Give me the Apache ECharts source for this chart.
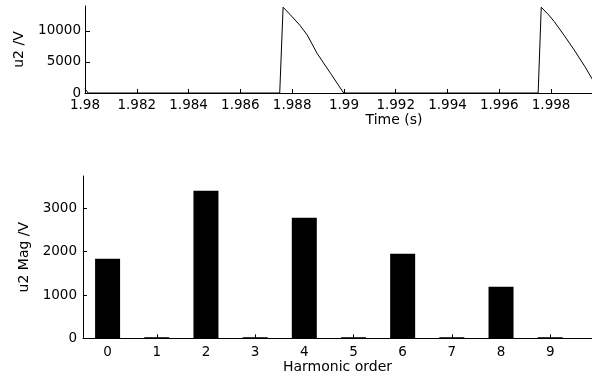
<!DOCTYPE html>
<html>
<head>
<meta charset="utf-8">
<script src="https://cdn.jsdelivr.net/npm/echarts@6/dist/echarts.min.js"></script>
<style>html,body{margin:0;padding:0;background:#fff}#c{width:592px;height:379px}</style>
</head>
<body>
<div id="c"></div>
<script>
// ---- top panel: waveform u2 (V) vs time (s)
const timeS = [1.98, 1.98012, 1.98752, 1.98765, 1.98793, 1.98830, 1.98858, 1.98896, 1.98948, 1.98999,
               1.99750, 1.99762, 1.99790, 1.99812, 1.99850, 1.99889, 1.99930, 1.99960];
const u2Volt = [700, 0, 0, 13800, 12580, 10900, 9350, 6400, 3180, 0,
                0, 13800, 12600, 11500, 9300, 6935, 4300, 2150];
const timeTicks = [1.98, 1.982, 1.984, 1.986, 1.988, 1.99, 1.992, 1.994, 1.996, 1.998];
const voltTicks = [0, 5000, 10000];

// ---- bottom panel: harmonic magnitudes
const harmonicOrder = [0, 1, 2, 3, 4, 5, 6, 7, 8, 9];
const harmonicMag = [1840, 25, 3410, 25, 2785, 25, 1955, 25, 1190, 25];
const magTicks = [0, 1000, 2000, 3000];

const FONT = 'DejaVu Sans';
const txt = {color: '#000', fontFamily: FONT, fontSize: 13.5};
const nameTxt = {color: '#000', fontFamily: FONT, fontSize: 14};
const axLine = {show: true, onZero: false, lineStyle: {color: '#000', width: 1}};

const chart = echarts.init(document.getElementById('c'), null, {renderer: 'canvas'});
chart.setOption({
  animation: false,
  backgroundColor: '#fff',
  grid: [
    {left: 85, right: 0, top: 6, bottom: 286, containLabel: false},
    {left: 83, right: 0, top: 176, bottom: 40.7, containLabel: false}
  ],
  xAxis: [
    {
      gridIndex: 0, type: 'value', min: 1.98, max: 1.99958,
      name: 'Time (s)', nameLocation: 'middle', nameGap: 13,
      nameTextStyle: Object.assign({}, nameTxt, {padding: [0, 0, 0, 111]}),
      axisLine: axLine,
      axisTick: {show: true, inside: true, length: 4, lineStyle: {color: '#000'}, customValues: timeTicks},
      axisLabel: Object.assign({}, txt, {margin: 5, customValues: timeTicks,
        formatter: v => String(+(+v).toFixed(3))}),
      splitLine: {show: false}
    },
    {
      gridIndex: 1, type: 'value', min: -0.5, max: 9.85,
      name: 'Harmonic order', nameLocation: 'middle', nameGap: 19,
      nameTextStyle: nameTxt,
      axisLine: axLine,
      axisTick: {show: true, inside: true, length: 4, lineStyle: {color: '#000'}, customValues: harmonicOrder},
      axisLabel: Object.assign({}, txt, {margin: 7, customValues: harmonicOrder,
        formatter: v => String(Math.round(v))}),
      splitLine: {show: false}
    }
  ],
  yAxis: [
    {
      gridIndex: 0, type: 'value', min: 0, max: 14000,
      name: 'u2 /V', nameLocation: 'middle', nameGap: 59, nameTextStyle: nameTxt,
      axisLine: axLine,
      axisTick: {show: true, inside: true, length: 5, lineStyle: {color: '#000'}, customValues: voltTicks},
      axisLabel: Object.assign({}, txt, {margin: 4, customValues: voltTicks, formatter: v => String(Math.round(v))}),
      splitLine: {show: false}
    },
    {
      gridIndex: 1, type: 'value', min: 0, max: 3750,
      name: 'u2 Mag /V', nameLocation: 'middle', nameGap: 52, nameTextStyle: nameTxt,
      axisLine: axLine,
      axisTick: {show: true, inside: true, length: 4, lineStyle: {color: '#000'}, customValues: magTicks},
      axisLabel: Object.assign({}, txt, {margin: 6, customValues: magTicks, formatter: v => String(Math.round(v))}),
      splitLine: {show: false}
    }
  ],
  series: [
    {
      type: 'line', xAxisIndex: 0, yAxisIndex: 0,
      data: timeS.map((t, i) => [t, u2Volt[i]]),
      showSymbol: false, symbol: 'none',
      lineStyle: {color: '#000', width: 1},
      clip: true, z: 5
    },
    {
      type: 'bar', xAxisIndex: 1, yAxisIndex: 1,
      data: harmonicOrder.map((h, i) => [h, harmonicMag[i]]),
      barWidth: 25,
      itemStyle: {color: '#000'},
      z: 1
    }
  ]
});
</script>
</body>
</html>
